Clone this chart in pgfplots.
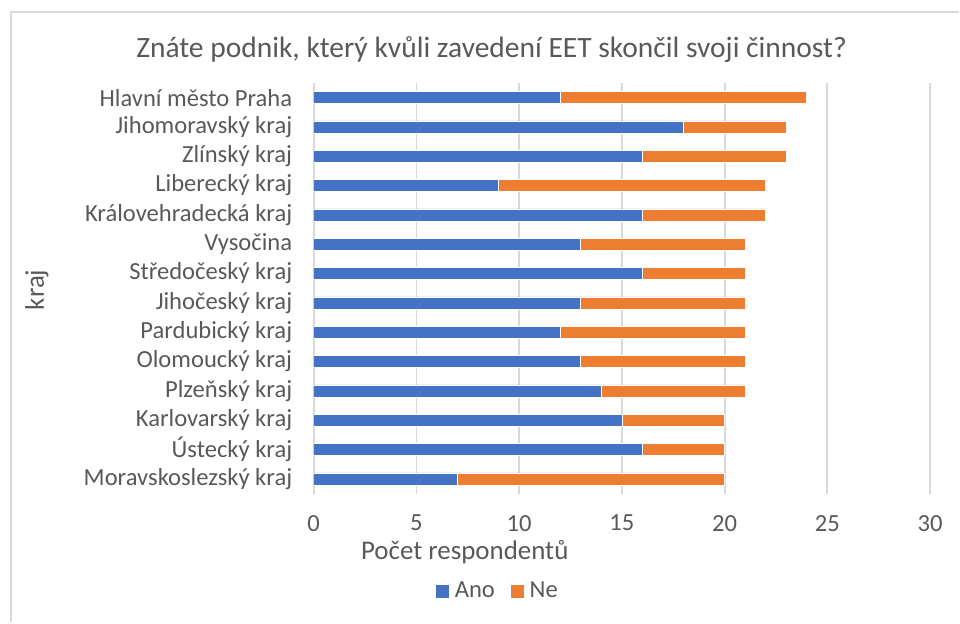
\documentclass[border=0pt]{standalone}
\usepackage{pgfplots}
\pgfplotsset{compat=1.18}
\usepackage{fontspec}
\setmainfont{Carlito}
\definecolor{ano}{RGB}{68,114,196}
\definecolor{ne}{RGB}{237,125,49}
\definecolor{txt}{RGB}{89,89,89}
\definecolor{gridc}{RGB}{217,217,217}

% data: y = 0 (bottom) ... 13 (top)
\pgfplotstableread{
y ano ne
0 7 13
1 16 4
2 15 5
3 14 7
4 13 8
5 12 9
6 13 8
7 16 5
8 13 8
9 16 6
10 9 13
11 16 7
12 18 5
13 12 12
}\kraje

\def\u{0.015cm}
\begin{document}
\begin{tikzpicture}
\begin{axis}[
  at={(4.71cm,-7.41cm)}, anchor=south west,
  scale only axis, width=9.255cm, height=6.165cm,
  xbar stacked, bar width=0.18cm,
  xmin=0, xmax=30, xtick={0,5,...,30},
  ymin=-0.5, ymax=13.5, ytick={0,...,13},
  yticklabels={Moravskoslezský kraj, Ústecký kraj, Karlovarský kraj, Plzeňský kraj,
    Olomoucký kraj, Pardubický kraj, Jihočeský kraj, Středočeský kraj, Vysočina,
    Královehradecká kraj, Liberecký kraj, Zlínský kraj, Jihomoravský kraj, Hlavní město Praha},
  axis line style={draw=none}, major tick length=0pt,
  xmajorgrids, grid style={gridc, line width=0.8pt},
  tick label style={font=\fontsize{10.5}{12}\selectfont, text=txt},
  /pgf/number format/assume math mode=true,
  yticklabel style={xshift=-0.2cm},
  xticklabel style={yshift=-0.2cm},
  every axis title shift=0pt,
  title={Znáte podnik, který kvůli zavedení EET skončil svoji činnost?},
  title style={at={(axis description cs:0.2885,1.080)}, anchor=center, font=\fontsize{12.6}{15}\selectfont, text=txt},
  xlabel={Počet respondentů},
  xlabel style={at={(axis description cs:0.245,-0.1436)}, anchor=center, font=\fontsize{11.5}{13}\selectfont, text=txt},
  ylabel={kraj},
  ylabel style={at={(axis description cs:-0.449,0.496)}, anchor=center, rotate=0, font=\fontsize{11.5}{13}\selectfont, text=txt},
  legend style={at={(axis description cs:0.300,-0.238)}, anchor=center, draw=none,
    legend columns=-1, font=\fontsize{10.5}{12}\selectfont, text=txt,
    /tikz/every even column/.append style={column sep=0.15cm}},
  legend image code/.code={\fill[#1] (0cm,-0.11cm) rectangle (0.22cm,0.11cm);},
]
\addplot[fill=ano, draw=white, line width=0.3pt] table[x=ano, y=y] {\kraje};
\addplot[fill=ne, draw=white, line width=0.3pt] table[x=ne, y=y] {\kraje};
\legend{Ano, Ne}
\end{axis}
\draw[gridc, line width=0.8pt] ({11*\u},{-623*\u}) -- ({11*\u},{-12*\u}) -- ({960*\u},{-12*\u});
\path (0,0) rectangle ({960*\u},{-623*\u});
\end{tikzpicture}
\end{document}
